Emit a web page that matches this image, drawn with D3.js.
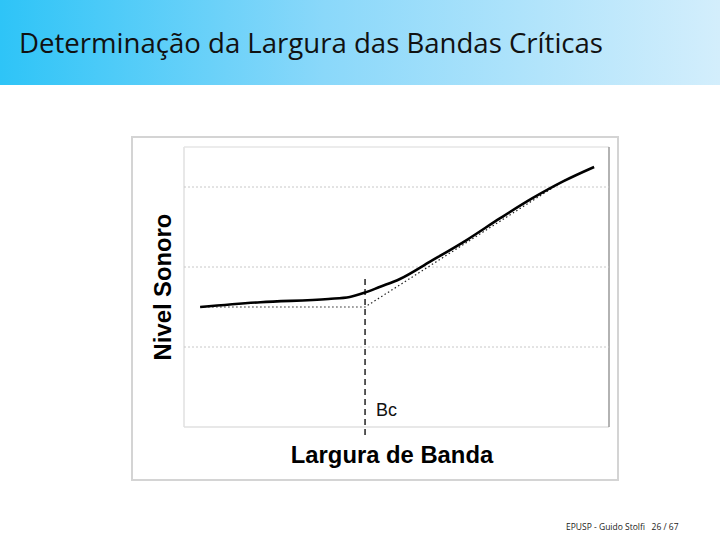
<!DOCTYPE html>
<html><head><meta charset="utf-8">
<script src="https://cdn.jsdelivr.net/npm/d3@7"></script>
<style>body{margin:0;background:#fff}svg{display:block}</style>
</head><body>
<script>
const title = "Determinação da Largura das Bandas Críticas";
const footer = "EPUSP - Guido Stolfi   26 / 67";
const xLabel = "Largura de Banda";
const yLabel = "Nivel Sonoro";
const bcLabel = "Bc";
const gridValues = [1, 2, 3];
const curveX = [0.38, 1.8, 3.4, 3.9, 4.26, 4.6, 5.08, 5.8, 6.66, 7.44, 8.2, 8.92, 9.65];
const curveY = [1.5, 1.56, 1.6, 1.625, 1.68, 1.75, 1.85, 2.07, 2.34, 2.61, 2.86, 3.07, 3.25];
const asymX = [0.38, 4.26, 9.0];
const asymY = [1.5, 1.5, 3.1];
const bcValue = 4.26;

const W = 720, H = 540;
const svg = d3.select("body").append("svg").attr("width", W).attr("height", H);
const defs = svg.append("defs");
const g = defs.append("linearGradient").attr("id", "hdr").attr("x1", 0).attr("x2", 1).attr("y1", 0).attr("y2", 0);
g.append("stop").attr("offset", "0%").attr("stop-color", "#2ec4f7");
g.append("stop").attr("offset", "45%").attr("stop-color", "#8ad8fa");
g.append("stop").attr("offset", "100%").attr("stop-color", "#d3eefc");
svg.append("rect").attr("x", 0).attr("y", 0).attr("width", W).attr("height", 85).attr("fill", "url(#hdr)");
svg.append("text").attr("x", 19).attr("y", 53).attr("font-family", "Open Sans, sans-serif")
  .attr("font-size", 27).attr("textLength", 584).attr("lengthAdjust", "spacingAndGlyphs")
  .attr("fill", "#111").text(title);

// outer frame
svg.append("rect").attr("x", 132).attr("y", 137).attr("width", 486).attr("height", 343)
  .attr("fill", "#fff").attr("stroke", "#d4d4d4").attr("stroke-width", 2);

const x = d3.scaleLinear().domain([0, 10]).range([184, 609]);
const y = d3.scaleLinear().domain([0, 3.5]).range([427, 147]);

// plot area borders
svg.append("line").attr("x1", 184).attr("x2", 184).attr("y1", 147).attr("y2", 427).attr("stroke", "#e0e0e0").attr("stroke-width", 1.5);
svg.append("line").attr("x1", 184).attr("x2", 609).attr("y1", 147).attr("y2", 147).attr("stroke", "#e6e6e6").attr("stroke-width", 1.5);
svg.append("line").attr("x1", 184).attr("x2", 609).attr("y1", 427).attr("y2", 427).attr("stroke", "#e0e0e0").attr("stroke-width", 1.5);
svg.append("line").attr("x1", 609).attr("x2", 609).attr("y1", 147).attr("y2", 427).attr("stroke", "#9a9a9a").attr("stroke-width", 1.5);

// gridlines
svg.append("g").selectAll("line").data(gridValues).join("line")
  .attr("x1", 184).attr("x2", 609).attr("y1", d => y(d)).attr("y2", d => y(d))
  .attr("stroke", "#c8c8c8").attr("stroke-width", 1).attr("stroke-dasharray", "2,2");

// asymptote dotted
const asym = asymX.map((v, i) => [v, asymY[i]]);
svg.append("path").attr("d", d3.line().x(d => x(d[0])).y(d => y(d[1]))(asym))
  .attr("fill", "none").attr("stroke", "#222").attr("stroke-width", 1.2).attr("stroke-dasharray", "1.5,2.5");

// Bc dashed vertical
svg.append("line").attr("x1", x(bcValue)).attr("x2", x(bcValue)).attr("y1", 279).attr("y2", 436)
  .attr("stroke", "#222").attr("stroke-width", 1.5).attr("stroke-dasharray", "6,4");
svg.append("text").attr("x", x(bcValue) + 11).attr("y", 416).attr("font-family", "Liberation Sans, Arial, sans-serif")
  .attr("font-size", 18).attr("fill", "#111").text(bcLabel);

// curve
const curve = curveX.map((v, i) => [v, curveY[i]]);
svg.append("path").attr("d", d3.line().curve(d3.curveMonotoneX).x(d => x(d[0])).y(d => y(d[1]))(curve))
  .attr("fill", "none").attr("stroke", "#000").attr("stroke-width", 2.6);

// axis titles
svg.append("text").attr("x", 392).attr("y", 463).attr("text-anchor", "middle")
  .attr("font-family", "Liberation Sans, Arial, sans-serif").attr("font-weight", "bold").attr("font-size", 23.8)
  .attr("fill", "#000").text(xLabel);
svg.append("text").attr("transform", "translate(171,287) rotate(-90)").attr("text-anchor", "middle")
  .attr("font-family", "Liberation Sans, Arial, sans-serif").attr("font-weight", "bold").attr("font-size", 23.8)
  .attr("fill", "#000").text(yLabel);

svg.append("text").attr("x", 566).attr("y", 530).attr("font-family", "Open Sans, sans-serif")
  .attr("font-size", 8.5).attr("fill", "#222").attr("xml:space", "preserve").style("white-space", "pre").text(footer);
</script>
</body></html>
